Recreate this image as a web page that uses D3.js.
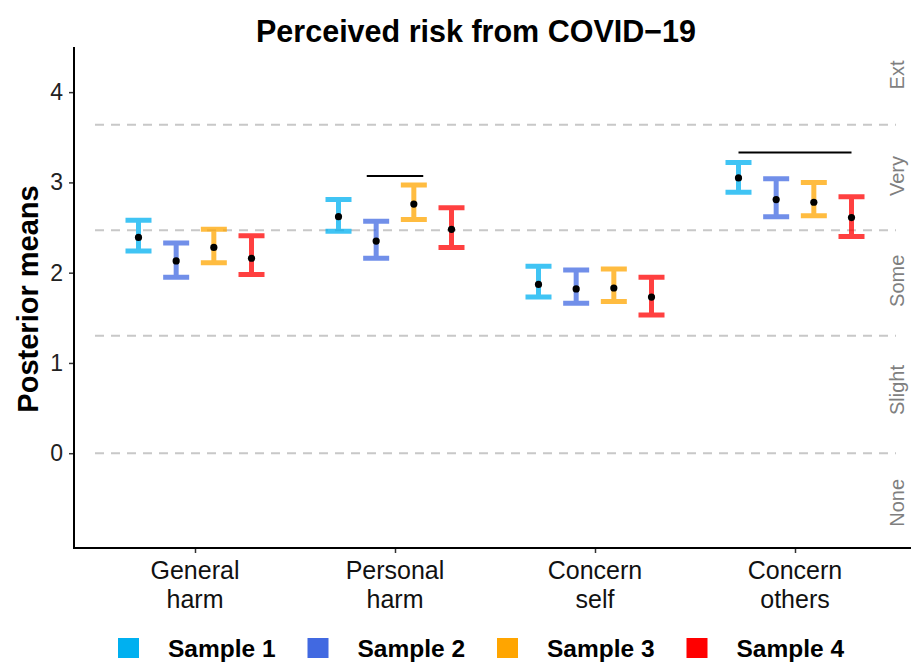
<!DOCTYPE html>
<html>
<head>
<meta charset="utf-8">
<script src="https://cdn.jsdelivr.net/npm/d3@7"></script>
<style>
  body { margin: 0; background: #fff; }
  svg { display: block; font-family: "Liberation Sans", Arial, sans-serif; }
</style>
</head>
<body>
<svg id="chart" width="911" height="664"></svg>
<script>
// ---- data ----
const categories = ["General harm", "Personal harm", "Concern self", "Concern others"];
const samples = ["Sample 1", "Sample 2", "Sample 3", "Sample 4"];
const colors = ["#00B0F0", "#4169E1", "#FFA500", "#FF0000"];
// posterior means per category, one array per sample
const means = [
  [2.39, 2.62, 1.87, 3.05],
  [2.13, 2.35, 1.82, 2.81],
  [2.28, 2.76, 1.83, 2.78],
  [2.16, 2.48, 1.73, 2.61]
];
const lower = [
  [2.24, 2.46, 1.73, 2.89],
  [1.95, 2.16, 1.66, 2.62],
  [2.11, 2.59, 1.68, 2.63],
  [1.98, 2.28, 1.53, 2.40]
];
const upper = [
  [2.58, 2.81, 2.07, 3.22],
  [2.33, 2.57, 2.03, 3.04],
  [2.48, 2.97, 2.04, 3.00],
  [2.41, 2.72, 1.95, 2.84]
];
const thresholds = [0, 1.30, 2.47, 3.64];
const levelLabels = ["None", "Slight", "Some", "Very", "Ext"];
const levelPos = [-0.55, 0.70, 1.91, 3.07, 4.19];
const yTicks = [0, 1, 2, 3, 4];
const sigCats = ["Personal harm", "Concern others"];
const sigFrom = [0.75, 0];
const sigTo = [2.25, 3];
const sigValue = [3.07, 3.33];

// ---- layout ----
const svg = d3.select("#chart");
const mLeft = 74, mBottom = 548, mTop = 47, mRight = 911;

const x = d3.scalePoint().domain(categories).range([195, 795]);
const dodge = d3.scaleLinear().domain([0, 3]).range([-56.5, 56.5]);
const y = d3.scaleLinear().domain([-1.05, 4.5]).range([mBottom, mTop]);

// threshold dashed lines
svg.append("g").selectAll("line").data(thresholds).join("line")
  .attr("x1", 95).attr("x2", 896)
  .attr("y1", d => y(d)).attr("y2", d => y(d))
  .attr("stroke", "#c8c8c8").attr("stroke-width", 2)
  .attr("stroke-dasharray", "9,7");

// level labels on right
svg.append("g").selectAll("text").data(levelLabels).join("text")
  .attr("transform", (d, i) => `translate(904,${y(levelPos[i])}) rotate(-90)`)
  .attr("text-anchor", "middle")
  .attr("font-size", 20).attr("fill", "#7f7f7f")
  .text(d => d);

// error bars
const capW = 13;
samples.forEach((s, si) => {
  const g = svg.append("g").attr("stroke", colors[si]).attr("stroke-opacity", 0.75)
    .attr("stroke-width", 5).attr("fill", "none");
  categories.forEach((c, ci) => {
    const cx = x(c) + dodge(si);
    const y1 = y(upper[si][ci]), y0 = y(lower[si][ci]);
    g.append("path")
      .attr("d", `M${cx - capW},${y1}H${cx + capW}M${cx},${y1}V${y0}M${cx - capW},${y0}H${cx + capW}`);
  });
});
// mean points
samples.forEach((s, si) => {
  svg.append("g").selectAll("circle").data(categories).join("circle")
    .attr("cx", (c) => x(c) + dodge(si))
    .attr("cy", (c, ci) => y(means[si][ci]))
    .attr("r", 3.6).attr("fill", "#000");
});

// significance lines
svg.append("g").selectAll("line").data(sigCats).join("line")
  .attr("x1", (c, i) => x(c) + dodge(sigFrom[i]))
  .attr("x2", (c, i) => x(c) + dodge(sigTo[i]))
  .attr("y1", (c, i) => y(sigValue[i])).attr("y2", (c, i) => y(sigValue[i]))
  .attr("stroke", "#000").attr("stroke-width", 2);

// y axis
const yAxis = svg.append("g").attr("transform", `translate(${mLeft},0)`)
  .call(d3.axisLeft(y).tickValues(yTicks).tickSize(5).tickPadding(6).tickFormat(d3.format("d")));
yAxis.select(".domain").remove();
yAxis.selectAll(".tick line").attr("stroke", "#333").attr("stroke-width", 1.5);
yAxis.selectAll(".tick text").attr("font-size", 23).attr("fill", "#222")
  .attr("font-family", "Liberation Sans, Arial, sans-serif");
svg.append("line").attr("x1", mLeft).attr("x2", mLeft).attr("y1", mTop).attr("y2", mBottom + 1)
  .attr("stroke", "#000").attr("stroke-width", 2);

// x axis
const xAxis = svg.append("g").attr("transform", `translate(0,${mBottom})`)
  .call(d3.axisBottom(x).tickSize(5).tickFormat(""));
xAxis.select(".domain").remove();
xAxis.selectAll(".tick line").attr("stroke", "#333").attr("stroke-width", 1.5);
svg.append("line").attr("x1", mLeft - 1).attr("x2", mRight).attr("y1", mBottom).attr("y2", mBottom)
  .attr("stroke", "#000").attr("stroke-width", 2);
const xl = svg.append("g").selectAll("text").data(categories).join("text")
  .attr("x", d => x(d)).attr("y", 579)
  .attr("text-anchor", "middle").attr("font-size", 25).attr("fill", "#111");
xl.each(function(d) {
  const parts = d.split(" ");
  const t = d3.select(this);
  parts.forEach((p, i) => t.append("tspan").attr("x", x(d)).attr("dy", i === 0 ? 0 : 29).text(p));
});

// y title
svg.append("text").attr("transform", "translate(38,299) rotate(-90)")
  .attr("text-anchor", "middle").attr("font-size", 29).attr("font-weight", "bold")
  .text("Posterior means");

// title
svg.append("text").attr("x", 476).attr("y", 42).attr("text-anchor", "middle")
  .attr("font-size", 30.5).attr("font-weight", "bold").text("Perceived risk from COVID\u221219");

// legend
const lg = svg.append("g").selectAll("g").data(samples).join("g")
  .attr("transform", (d, i) => `translate(${118 + i * 189.5},638)`);
lg.append("rect").attr("width", 21).attr("height", 20).attr("fill", (d, i) => colors[i]);
lg.append("text").attr("x", 50).attr("y", 19).attr("font-size", 24.5).attr("font-weight", "bold")
  .text(d => d);
</script>
</body>
</html>
